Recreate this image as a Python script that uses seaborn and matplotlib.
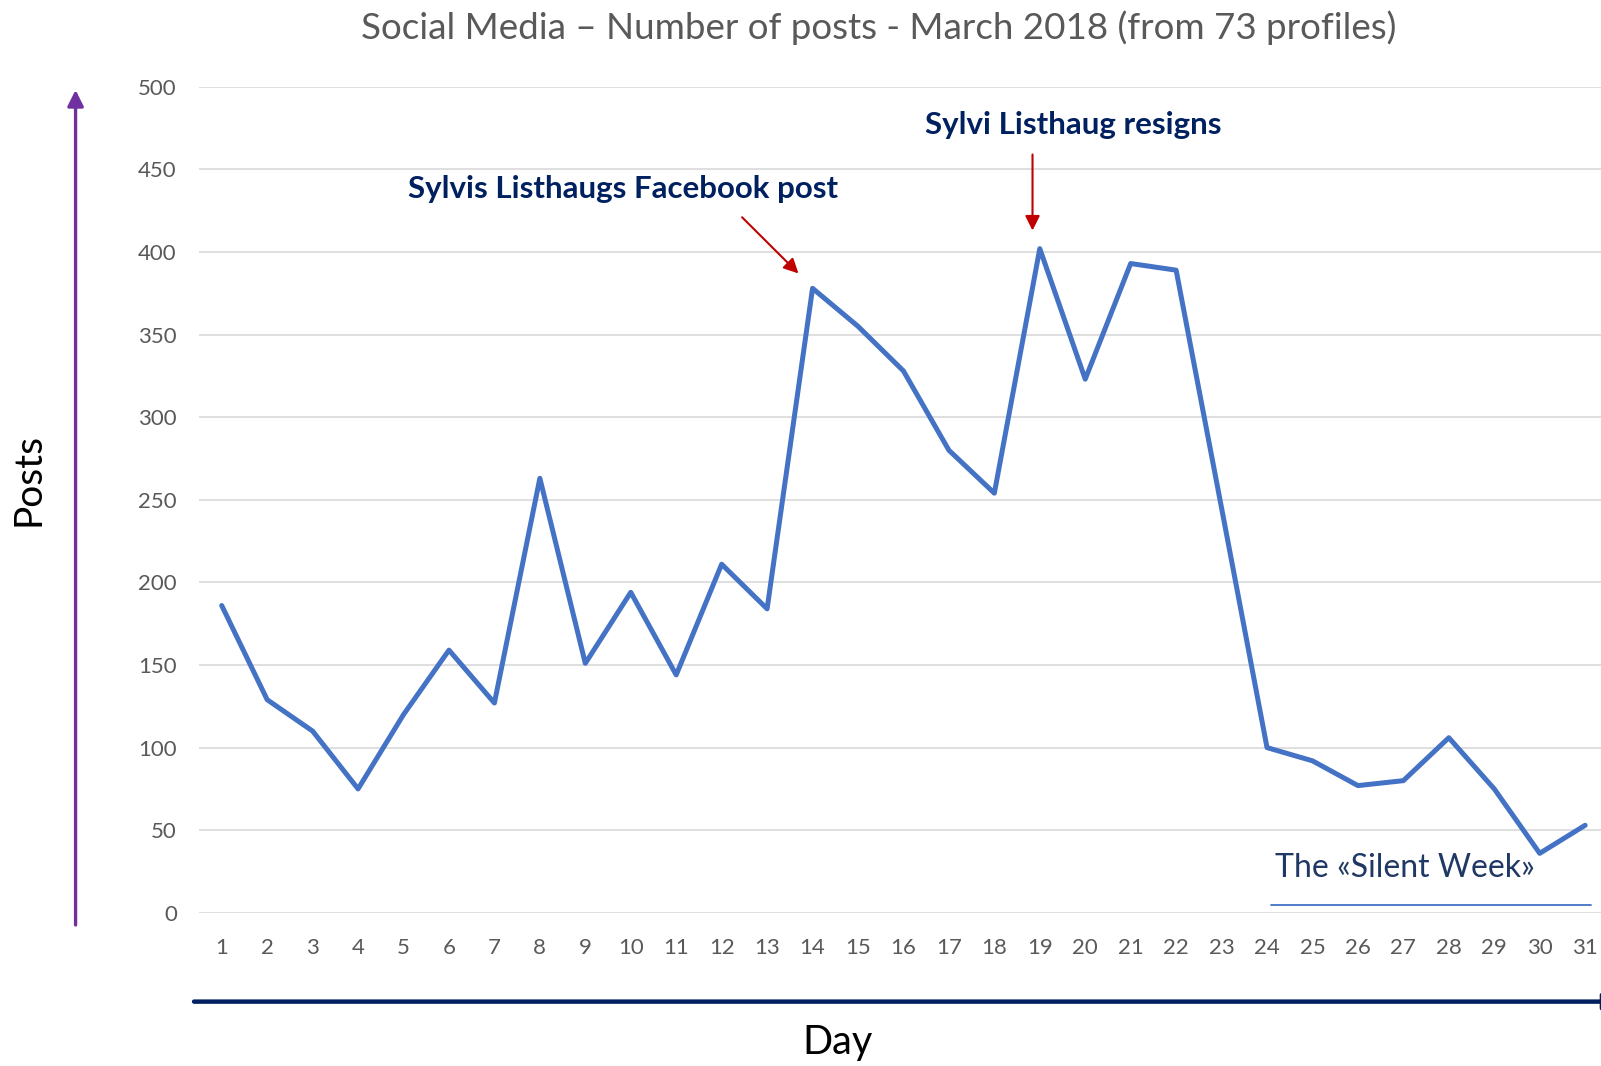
import numpy as np
import pandas as pd
import matplotlib
matplotlib.use("Agg")
import matplotlib.pyplot as plt
import seaborn as sns

# ─────────────────────────────────────────────
# Data
# ─────────────────────────────────────────────

days = list(range(1, 32))
posts = [186, 129, 110, 75, 120, 159, 127, 263, 151, 194,
         144, 211, 184, 378, 355, 328, 280, 254, 402, 323,
         393, 389, 245, 100, 92, 77, 80, 106, 75, 36, 53]
y_ticks = [0, 50, 100, 150, 200, 250, 300, 350, 400, 450, 500]

title = "Social Media \u2013 Number of posts - March 2018 (from 73 profiles)"
note_fb = "Sylvis Listhaugs Facebook post"
note_resign = "Sylvi Listhaug resigns"
note_silent = "The \u00abSilent Week\u00bb"

# colours
LINE = "#4472C4"
GRID = "#D9D9D9"
GREY = "#595959"
NAVY = "#002060"
RED = "#C00000"
PURPLE = "#7030A0"

sns.set_theme(style="white")
plt.rcParams["font.family"] = ["Lato", "DejaVu Sans"]

df = pd.DataFrame({"Day": days, "Posts": posts})

fig = plt.figure(figsize=(16.01, 10.66), dpi=100)
ax = fig.add_axes([0.1243, 0.1437, 0.880, 0.7749])

sns.lineplot(data=df, x="Day", y="Posts", ax=ax, color=LINE, linewidth=3.6)

ax.set_xlim(0.5, 31.5)
ax.set_ylim(0, 500)
ax.set_xticks(days)
ax.set_yticks(y_ticks)
ax.yaxis.grid(True, color=GRID, linewidth=1.2)
ax.set_axisbelow(True)
for s in ax.spines.values():
    s.set_visible(False)
ax.tick_params(axis="both", length=0, colors=GREY, labelsize=16)
ax.tick_params(axis="y", pad=16)
ax.tick_params(axis="x", pad=18)
ax.set_xlabel("")
ax.set_ylabel("")

# title and axis names
fig.text(0.549, 0.974, title, ha="center", va="center", color=GREY,
         fontsize=26.5)
fig.text(0.0179, 0.55, "Posts", ha="center", va="center", rotation=90,
         color="black", fontsize=28)
fig.text(0.523, 0.0225, "Day", ha="center", va="center",
         color="black", fontsize=28.5)

# decorative axis arrows
ax.annotate("", xy=(0.0472, 0.9156), xytext=(0.0472, 0.1323),
            xycoords="figure fraction", textcoords="figure fraction",
            arrowprops=dict(arrowstyle="-|>", color=PURPLE, lw=2.4,
                            mutation_scale=24, shrinkA=0, shrinkB=0))
ax.annotate("", xy=(1.012, 0.0604), xytext=(0.1212, 0.0604),
            xycoords="figure fraction", textcoords="figure fraction",
            arrowprops=dict(arrowstyle="-|>", color=NAVY, lw=3.2,
                            mutation_scale=24, shrinkA=0, shrinkB=0))

# event notes
ax.text(9.82, 438, note_fb, ha="center", va="center", color=NAVY,
        fontsize=22.5, fontweight="bold")
ax.annotate("", xy=(13.69, 387), xytext=(12.45, 421),
            arrowprops=dict(arrowstyle="-|>", color=RED, lw=1.5,
                            mutation_scale=22, shrinkA=0, shrinkB=0))
ax.text(19.74, 477, note_resign, ha="center", va="center", color=NAVY,
        fontsize=22.5, fontweight="bold")
ax.annotate("", xy=(18.84, 413), xytext=(18.84, 459),
            arrowprops=dict(arrowstyle="-|>", color=RED, lw=1.5,
                            mutation_scale=22, shrinkA=0, shrinkB=0))

ax.text(27.03, 27, note_silent, ha="center", va="center", color="#1F3864",
        fontsize=23)
ax.plot([24.08, 31.12], [4.7, 4.7], color=LINE, linewidth=1.3,
        clip_on=False)

fig.savefig("out.png", dpi=100)
